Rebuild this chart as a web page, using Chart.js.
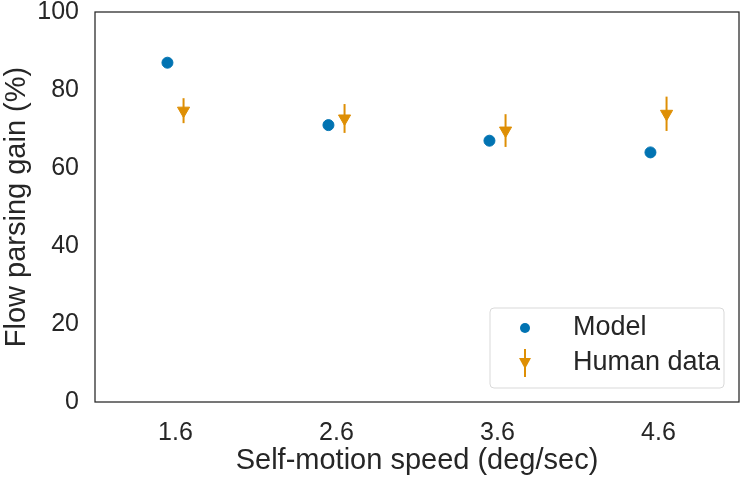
<!DOCTYPE html>
<html>
<head>
<meta charset="utf-8">
<script src="https://cdn.jsdelivr.net/npm/chart.js@4/dist/chart.umd.min.js"></script>
<style>
  html, body { margin: 0; padding: 0; background: #fff; }
  #wrap { width: 740px; height: 478px; }
</style>
</head>
<body>
<div id="wrap"><canvas id="flowChart" width="740" height="478"></canvas></div>
<script>
// categories (self-motion speed) and values
const speeds = ['1.6', '2.6', '3.6', '4.6'];
const modelGain = [87, 71, 67, 64];
const humanGain = [74.7, 72.7, 69.6, 73.9];
const humanErr = [3.2, 3.7, 4.2, 4.4];
const yTicks = [0, 20, 40, 60, 80, 100];

const BLUE = '#0173b2';
const ORANGE = '#de8f05';
const INK = '#262626';
const FONT = '"Liberation Sans", Arial, sans-serif';
const shift = 0.05; // small side-by-side dodge of the two series

const modelPts = modelGain.map((v, i) => ({ x: i - shift, y: v }));
const humanPts = humanGain.map((v, i) => ({ x: i + shift, y: v, err: humanErr[i] }));

// error bars for human data + frame + legend
const extras = {
  id: 'extras',
  beforeDatasetsDraw(chart) {
    const { ctx, scales: { x, y } } = chart;
    ctx.save();
    ctx.strokeStyle = ORANGE;
    ctx.lineWidth = 2;
    humanPts.forEach(p => {
      const px = x.getPixelForValue(p.x);
      ctx.beginPath();
      ctx.moveTo(px, y.getPixelForValue(p.y + p.err));
      ctx.lineTo(px, y.getPixelForValue(p.y - p.err));
      ctx.stroke();
    });
    ctx.restore();
  },
  afterDraw(chart) {
    const { ctx, chartArea: a } = chart;
    ctx.save();
    ctx.strokeStyle = INK;
    ctx.lineWidth = 1.25;
    ctx.strokeRect(a.left, a.top, a.right - a.left, a.bottom - a.top);

    // legend box, lower right
    const bw = 234, bh = 80;
    const bx = a.right - 15 - bw, by = a.bottom - 14 - bh;
    ctx.strokeStyle = '#d9d9d9';
    ctx.lineWidth = 1;
    ctx.beginPath();
    ctx.roundRect(bx, by, bw, bh, 4);
    ctx.fillStyle = 'rgba(255,255,255,0.8)';
    ctx.fill();
    ctx.stroke();

    const mx = bx + 35;
    const row1 = by + 20, row2 = by + 55;
    ctx.fillStyle = BLUE;
    ctx.beginPath();
    ctx.arc(mx, row1, 5, 0, Math.PI * 2);
    ctx.fill();

    ctx.strokeStyle = ORANGE;
    ctx.lineWidth = 2;
    ctx.beginPath();
    ctx.moveTo(mx, row2 - 14);
    ctx.lineTo(mx, row2 + 14);
    ctx.stroke();
    ctx.fillStyle = ORANGE;
    ctx.beginPath();
    ctx.moveTo(mx - 6, row2 - 5);
    ctx.lineTo(mx + 6, row2 - 5);
    ctx.lineTo(mx, row2 + 6);
    ctx.closePath();
    ctx.fill();

    ctx.fillStyle = INK;
    ctx.font = '27px ' + FONT;
    ctx.textBaseline = 'middle';
    ctx.textAlign = 'left';
    ctx.fillText('Model', bx + 83, row1);
    ctx.fillText('Human data', bx + 83, row2);
    ctx.restore();
  }
};

new Chart(document.getElementById('flowChart').getContext('2d'), {
  type: 'scatter',
  data: {
    datasets: [
      {
        label: 'Model',
        data: modelPts,
        backgroundColor: BLUE,
        borderColor: BLUE,
        pointRadius: 5.5,
        pointHoverRadius: 5.5
      },
      {
        label: 'Human data',
        data: humanPts,
        backgroundColor: ORANGE,
        borderColor: ORANGE,
        pointStyle: 'triangle',
        rotation: 180,
        pointRadius: 7,
        pointHoverRadius: 7
      }
    ]
  },
  options: {
    responsive: false,
    animation: false,
    layout: { autoPadding: false, padding: { top: 12, right: 1, left: 0, bottom: 0 } },
    plugins: { legend: { display: false }, tooltip: { enabled: false } },
    scales: {
      x: {
        type: 'linear',
        min: -0.5,
        max: 3.5,
        afterFit: s => { s.height = 76; s.paddingLeft = 0; s.paddingRight = 0; },
        afterBuildTicks: s => { s.ticks = speeds.map((_, i) => ({ value: i })); },
        ticks: {
          callback: v => speeds[v],
          color: INK,
          padding: 8,
          font: { family: FONT, size: 25 }
        },
        grid: { display: false },
        border: { display: false },
        title: {
          display: true,
          text: 'Self-motion speed (deg/sec)',
          color: INK,
          padding: { top: 0, bottom: 0 },
          font: { family: FONT, size: 29 }
        }
      },
      y: {
        min: 0,
        max: 100,
        afterFit: s => { s.width = 95; s.paddingTop = 0; s.paddingBottom = 0; },
        afterBuildTicks: s => { s.ticks = yTicks.map(v => ({ value: v })); },
        ticks: {
          color: INK,
          padding: 8,
          font: { family: FONT, size: 25 }
        },
        grid: { display: false },
        border: { display: false },
        title: {
          display: true,
          text: 'Flow parsing gain (%)',
          color: INK,
          padding: { top: 0, bottom: 2 },
          font: { family: FONT, size: 29 }
        }
      }
    }
  },
  plugins: [extras]
});
</script>
</body>
</html>
